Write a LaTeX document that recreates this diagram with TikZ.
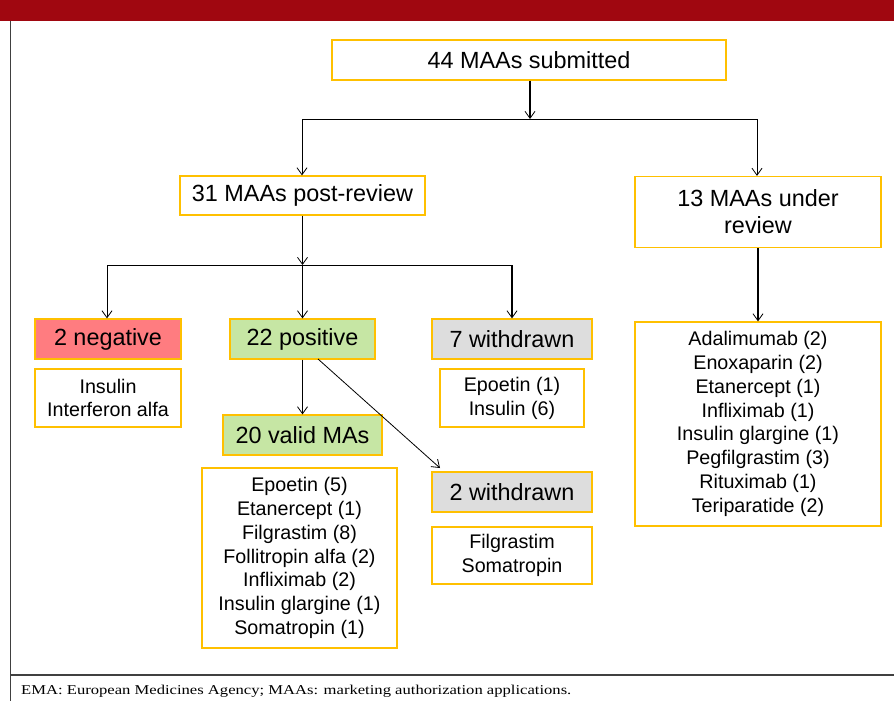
\documentclass[tikz,border=0pt]{standalone}
\usepackage{fontspec}
\setmainfont{Liberation Sans}
\newfontfamily\footfont{Liberation Serif}
\usetikzlibrary{arrows.meta}
\definecolor{boxgold}{RGB}{255,192,0}
\definecolor{negred}{RGB}{255,124,128}
\definecolor{posgreen}{RGB}{198,230,164}
\definecolor{wdgray}{RGB}{221,221,221}
\definecolor{barred}{RGB}{160,7,16}
\newcommand\bigfs{\fontsize{23.4}{27}\selectfont}
\newcommand\listfs{\fontsize{19.7}{23.8}\selectfont}
\tikzset{
  box/.style={draw=boxgold, line width=1.2pt, inner sep=0pt, align=center, fill=white},
  head/.style={box, font=\bigfs},
  lst/.style={box, font=\listfs},
  thin/.style={line width=0.8pt},
  thick/.style={line width=1.8pt},
  tip/.style={-{Straight Barb[length=7pt,width=10pt,line width=0.8pt]}},
}
\begin{document}
\begin{tikzpicture}[x=1pt,y=-1pt]
\useasboundingbox (0,0) rectangle (894,701);
\fill[white] (0,0) rectangle (894,701);
% header bar and frame
\fill[barred] (0,0) rectangle (894,21);
\draw[line width=1pt, black!75] (10,21) -- (10,701);
\draw[line width=1.5pt, black!75] (10,675) -- (894,675);
\node[anchor=base west, inner sep=0pt] (foot) at (21,694)
  {\scalebox{1.23}[1]{\footfont\fontsize{13.5}{15}\selectfont EMA: European Medicines Agency; MAAs: marketing authorization applications.}};

% nodes
\node[head, minimum width=394pt, minimum height=40pt] (n44) at (529,60) {44 MAAs submitted};
\node[head, minimum width=245pt, minimum height=39pt] (n31) at (302.5,195.5) {31 MAAs post-review};
\node[head, minimum width=246pt, minimum height=71pt] (n13) at (758,212) {13 MAAs under\\review};
\node[lst, minimum width=246pt, minimum height=204pt] (l13) at (758,424)
  {Adalimumab (2)\\Enoxaparin (2)\\Etanercept (1)\\Infliximab (1)\\Insulin glargine (1)\\Pegfilgrastim (3)\\Rituximab (1)\\Teriparatide (2)};
\node[head, fill=negred, minimum width=146pt, minimum height=40pt] (neg) at (108,339) {2 negative};
\node[lst, minimum width=146pt, minimum height=58pt] (lneg) at (108,398) {Insulin\\Interferon alfa};
\node[head, fill=posgreen, minimum width=145pt, minimum height=40pt] (pos) at (302.5,339) {22 positive};
\node[head, fill=posgreen, minimum width=159pt, minimum height=40pt] (valid) at (302.5,435) {20 valid MAs};
\node[lst, minimum width=195pt, minimum height=180pt] (lvalid) at (299.5,558)
  {Epoetin (5)\\Etanercept (1)\\Filgrastim (8)\\Follitropin alfa (2)\\Infliximab (2)\\Insulin glargine (1)\\Somatropin (1)};
\node[head, fill=wdgray, minimum width=160pt, minimum height=40pt] (w7) at (512,339) {7 withdrawn};
\node[lst, minimum width=144pt, minimum height=58pt] (lw7) at (512,398) {Epoetin (1)\\Insulin (6)};
\node[head, fill=wdgray, minimum width=160pt, minimum height=40pt] (w2) at (512,492) {2 withdrawn};
\node[lst, minimum width=160pt, minimum height=57pt] (lw2) at (512,555.5) {Filgrastim\\Somatropin};

% junction coordinates
\coordinate (j1) at (530,119);
\coordinate (j1l) at (302,119);
\coordinate (j1r) at (757,119);
\coordinate (j2) at (302.5,265);
\coordinate (j2l) at (107,265);
\coordinate (j2r) at (512,265);
\coordinate (dstart) at (318,359);
\coordinate (dend) at (440,468);

% connectors
\draw[thick, tip] (n44.south -| j1) -- (j1);
\draw[thin] (j1l) -- (j1r);
\draw[thin, tip] (j1l) -- (n31.north -| j1l);
\draw[thin, tip] (j1r) -- (n13.north -| j1r);
\draw[thick, tip] (n31.south) -- (j2);
\draw[thin] (j2l) -- (j2r);
\draw[thin, tip] (j2l) -- (neg.north -| j2l);
\draw[thick, tip] (j2) -- (pos.north);
\draw[thick, tip] (j2r) -- (w7.north);
\draw[thick, tip] (n13.south) -- (l13.north);
\draw[thick, tip] (pos.south) -- (valid.north);
\draw[thin, tip] (dstart) -- (dend);
\end{tikzpicture}
\end{document}
